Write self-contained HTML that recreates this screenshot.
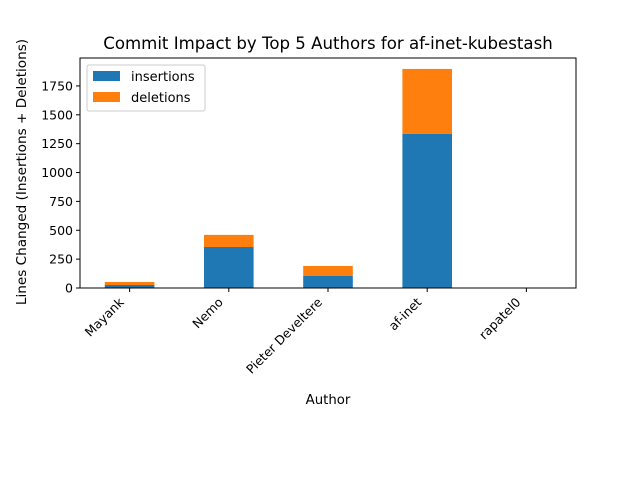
<!DOCTYPE html>
<html><head><meta charset="utf-8"><style>
body{margin:0;background:#fff;font-family:"DejaVu Sans","Liberation Sans",sans-serif}
</style></head><body>
<svg id="c" width="640" height="480" xmlns="http://www.w3.org/2000/svg" font-family="DejaVu Sans, Liberation Sans, sans-serif">
<rect width="640" height="480" fill="#fff"/>
<text x="328" y="49" font-size="16.6" text-anchor="middle">Commit Impact by Top 5 Authors for af-inet-kubestash</text>
<g id="bars"></g>
<g id="axes"></g>
<text x="328" y="404" font-size="13.3" text-anchor="middle">Author</text>
<text transform="translate(26,172) rotate(-90)" font-size="13.6" text-anchor="middle">Lines Changed (Insertions + Deletions)</text>
<g>
<rect x="87" y="65" width="118" height="46" fill="#fff" stroke="#ccc" rx="2"/>
<rect x="93" y="71" width="27" height="10" fill="#1f77b4"/>
<text x="131" y="81" font-size="13">insertions</text>
<rect x="93" y="92" width="27" height="10" fill="#ff7f0e"/>
<text x="131" y="102" font-size="13">deletions</text>
</g>
</svg>
<script>
const authors=["Mayank","Nemo","Pieter Develtere","af-inet","rapatel0"];
const insertions=[26,355,104,1334,0];
const deletions=[26,105,87,563,0];
const yTicks=[0,250,500,750,1000,1250,1500,1750];
const L=80,R=576,T=58,B=288;
const total=insertions.map((v,i)=>v+deletions[i]);
const yMax=Math.max(...total)*1.05;
const ys=v=>B-(v/yMax)*(B-T);
const step=(R-L)/authors.length;
const xs=i=>L+step*(i+0.5);
const NS="http://www.w3.org/2000/svg";
const bars=document.getElementById('bars'),axes=document.getElementById('axes');
function mk(tag,attrs,parent){const e=document.createElementNS(NS,tag);for(const k in attrs)e.setAttribute(k,attrs[k]);parent.appendChild(e);return e;}
const bw=step*0.5;
authors.forEach((a,i)=>{
 const r1=mk('rect',{x:xs(i)-bw/2,y:ys(insertions[i]),width:bw,height:B-ys(insertions[i]),fill:'#1f77b4'},bars);
 
 
 const r2=mk('rect',{x:xs(i)-bw/2,y:ys(total[i]),width:bw,height:ys(insertions[i])-ys(total[i]),fill:'#ff7f0e'},bars);
 
 
 mk('line',{x1:xs(i),x2:xs(i),y1:B,y2:B+4,stroke:'#000'},axes);
 const t=mk('text',{transform:`translate(${xs(i)-5},${B+15}) rotate(-45)`,'font-size':12.5,'text-anchor':'end'},axes);
 t.textContent=a;
 
 
});
yTicks.forEach(v=>{
 mk('line',{x1:L-4,x2:L,y1:ys(v),y2:ys(v),stroke:'#000'},axes);
 const t=mk('text',{x:L-7,y:ys(v)+4.5,'font-size':12.5,'text-anchor':'end'},axes);
 t.textContent=v;
 
 
});
const f=mk('rect',{x:L,y:T,width:R-L,height:B-T,fill:'none',stroke:'#000','stroke-width':1},axes);


</script>
</body></html>
